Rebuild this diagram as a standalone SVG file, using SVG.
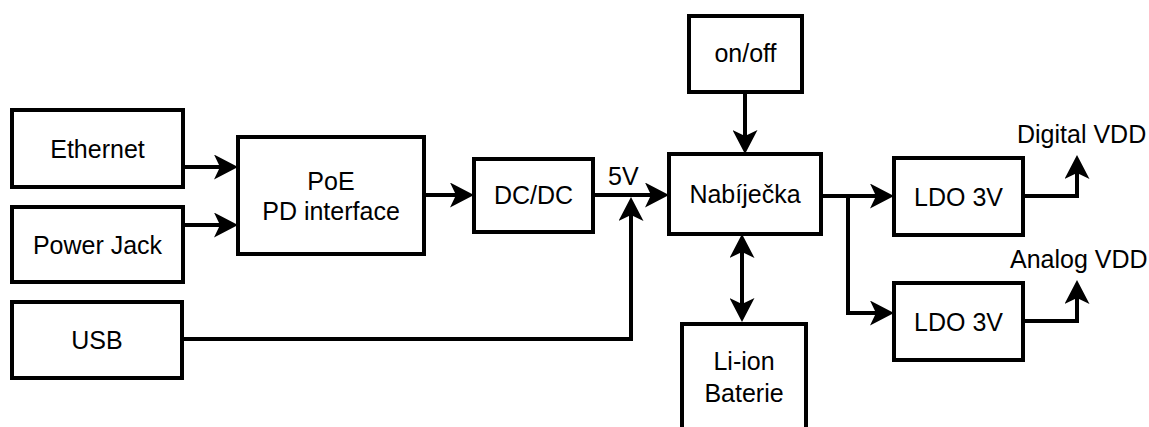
<svg xmlns="http://www.w3.org/2000/svg" width="1149" height="427" viewBox="0 0 1149 427">
<style>
  .box { fill: #ffffff; stroke: #000000; stroke-width: 4; }
  .lbl { font-family: "Liberation Sans", Arial, sans-serif; font-size: 25px; fill: #000000; text-anchor: middle; }
  .free { font-family: "Liberation Sans", Arial, sans-serif; font-size: 25px; fill: #000000; }
  .wire { fill: none; stroke: #000000; stroke-width: 4; stroke-linejoin: miter; }
  .arr { marker-end: url(#ah); }
</style>
<defs>
  <marker id="ah" markerUnits="userSpaceOnUse" viewBox="0 0 24 25" markerWidth="24" markerHeight="25" refX="6" refY="12.5" orient="auto-start-reverse">
    <path d="M0,0 L24,12.5 L0,25 L6,12.5 Z" fill="#000000"/>
  </marker>
</defs>
<rect width="1149" height="427" fill="#ffffff"/>
<g id="connectors">
  <path class="wire arr" d="M183,167 H220"/>
  <path class="wire arr" d="M183,225 H220"/>
  <path class="wire arr" d="M424,195 H456"/>
  <path class="wire arr" d="M593,195 H651"/>
  <path class="wire arr" d="M182,339 H631 V215"/>
  <path class="wire arr" d="M745,92 V136"/>
  <path class="wire" d="M742,252 V304" marker-start="url(#ah)" marker-end="url(#ah)"/>
  <path class="wire arr" d="M821,196 H876"/>
  <path class="wire arr" d="M848,196 V313 H876"/>
  <path class="wire arr" d="M1023,196 H1077 V173"/>
  <path class="wire arr" d="M1023,321 H1077 V298"/>
</g>
<g id="ethernet"><rect class="box" x="12" y="110" width="171" height="77"/><text class="lbl" x="97.5" y="157.5">Ethernet</text></g>
<g id="power-jack"><rect class="box" x="12" y="207" width="171" height="75"/><text class="lbl" x="97.5" y="253.5">Power Jack</text></g>
<g id="usb"><rect class="box" x="12" y="302" width="170" height="76"/><text class="lbl" x="97" y="348.5">USB</text></g>
<g id="poe"><rect class="box" x="238" y="137" width="186" height="117"/><text class="lbl" x="331" y="190">PoE</text><text class="lbl" x="331" y="220">PD interface</text></g>
<g id="dcdc"><rect class="box" x="474" y="159" width="119" height="73"/><text class="lbl" x="533.5" y="204">DC/DC</text></g>
<g id="label-5v"><text class="free" x="608" y="185">5V</text></g>
<g id="onoff"><rect class="box" x="689" y="16" width="113" height="76"/><text class="lbl" x="745.5" y="62">on/off</text></g>
<g id="nabijecka"><rect class="box" x="669" y="154" width="152" height="80"/><text class="lbl" x="745" y="202.5">Nabíječka</text></g>
<g id="li-ion"><rect class="box" x="682" y="324" width="124" height="120"/><text class="lbl" x="744" y="370">Li-ion</text><text class="lbl" x="744" y="402">Baterie</text></g>
<g id="ldo1"><rect class="box" x="894" y="158" width="129" height="77"/><text class="lbl" x="958.5" y="205.5">LDO 3V</text></g>
<g id="ldo2"><rect class="box" x="894" y="283" width="129" height="77"/><text class="lbl" x="958.5" y="330.5">LDO 3V</text></g>
<g id="digital-vdd"><text class="free" x="1017" y="143">Digital VDD</text></g>
<g id="analog-vdd"><text class="free" x="1010" y="268">Analog VDD</text></g>
</svg>
